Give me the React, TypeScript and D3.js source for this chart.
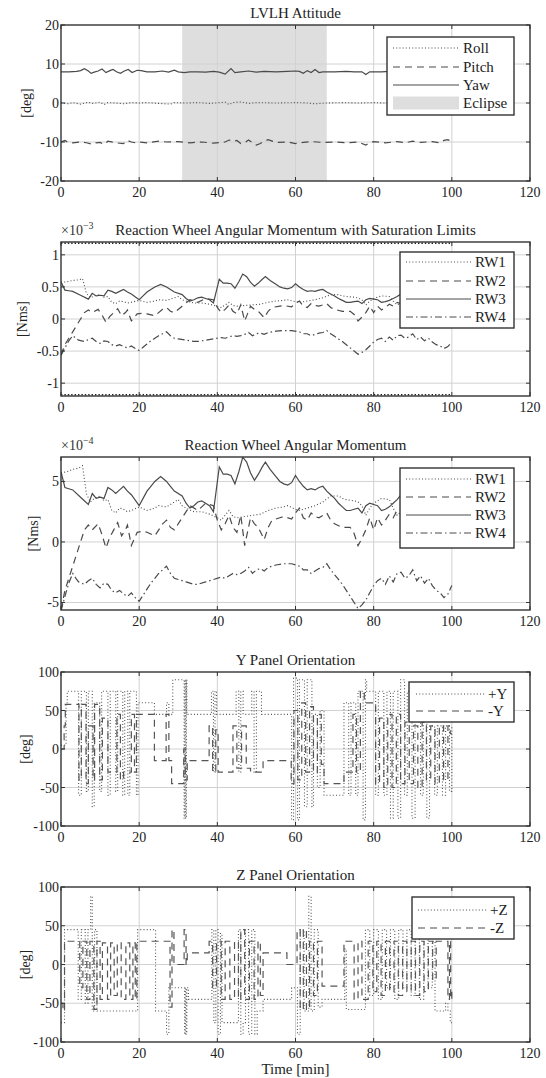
import { useEffect, useRef } from 'react';
import * as d3 from 'd3';

type Pt = [number, number];

const xTicks = [0, 20, 40, 60, 80, 100, 120];

// LVLH attitude [deg]
const rollData: Pt[] = [
  [0, 0], [2, -0.2], [3, 0.1], [5, -0.3], [7, 0.2], [8, -0.1], [10, 0.2], [11, -0.4], [12, 0.1], [14, 0],
  [16, -0.2], [18, 0.1], [20, 0], [22, 0.1], [25, -0.1], [28, -0.3], [29, 0.1], [32, 0], [35, 0.1], [38, -0.1],
  [42, 0.2], [43, -0.4], [44, 0.1], [46, 0.3], [48, -0.1], [50, 0.1], [55, 0], [60, 0.1], [63, 0], [65, -0.2],
  [68, 0], [72, 0.1], [76, 0], [80, 0.1], [85, -0.1], [90, 0.1], [95, 0], [100, 0],
];
const pitchData: Pt[] = [
  [0, -10], [1, -9.6], [2, -10.2], [3, -10.2], [5, -10], [6.5, -10.2], [8, -10.6], [9, -10.2], [10, -10.1], [11, -10.6],
  [12, -9.8], [14, -10.2], [16, -10.4], [17, -9.6], [18, -10], [19, -10.2], [20, -10], [22, -10.2], [25, -9.8], [27, -10],
  [30, -9.9], [33, -10.2], [36, -10], [39, -10.3], [42, -10], [43, -9.5], [44, -9.8], [45, -9.6], [46, -10.4], [47, -10.2],
  [48, -9.5], [50, -10.8], [51, -10.4], [52, -9.8], [53, -9.4], [55, -10.1], [58, -10], [60, -10.4], [62, -10.1], [64, -9.9],
  [67, -10.1], [70, -10], [73, -10.2], [76, -10], [78, -10.8], [79, -10.2], [80, -9.9], [83, -10.2], [86, -9.9], [88, -10.2],
  [90, -9.8], [92, -10.1], [95, -9.9], [97, -10.2], [98, -9.6], [99, -9.4], [100, -10],
];
const yawData: Pt[] = [
  [0, 8.0], [2, 8.0], [4, 8.1], [5, 8.3], [6, 8.8], [7, 8.2], [7.7, 7.6], [8.5, 7.9], [9.5, 8.2], [10.5, 8.7],
  [11.5, 7.8], [12.5, 8.3], [13.3, 8.6], [14.2, 8.0], [15.2, 7.6], [16.2, 8.2], [17.2, 8.6], [18.2, 7.8], [19.5, 8.4], [20.5, 8.3],
  [22, 8.0], [24, 8.0], [26, 8.2], [27.5, 7.9], [29, 8.4], [30, 8.0], [31.5, 7.8], [33, 8.0], [35, 8.0], [37, 7.9],
  [39, 8.1], [40.5, 7.9], [42, 7.4], [43.5, 8.8], [44.5, 7.8], [46, 8.0], [48, 8.2], [50, 7.9], [52, 8.1], [55, 8.0],
  [58, 8.1], [60, 8.2], [61, 8.1], [62, 7.6], [63, 8.3], [64, 7.8], [65, 8.6], [66, 7.8], [67, 8.0], [70, 8.0],
  [73, 8.1], [75, 8.0], [77, 8.0], [78, 7.3], [79, 8.0], [82, 8.0], [84, 8.1], [86, 7.9], [88, 8.1], [90, 8.0],
  [92, 7.9], [94, 8.1], [96, 8.0], [98, 8.1], [100, 8.0],
];
const eclipseSpan: Pt = [31, 68];

// reaction wheel angular momentum, in units of 1e-4 Nms
const rw1Data: Pt[] = [
  [0, 5.7], [1.5, 5.8], [3, 6.0], [4.5, 6.1], [5.5, 6.3], [6.5, 4.0], [7.5, 3.3], [8.5, 3.6], [10, 3.8], [11, 3.4],
  [12, 3.5], [13, 2.6], [14, 2.4], [15, 2.8], [16, 2.7], [17, 2.5], [18, 2.6], [20, 2.9], [22, 2.6], [24, 2.8],
  [25, 3.0], [27, 2.9], [28, 3.1], [30, 3.5], [31, 3.0], [32, 2.8], [34, 2.5], [36, 2.5], [38, 2.3], [40, 2.0],
  [41, 1.8], [42, 2.2], [43, 2.6], [44, 2.1], [45, 2.0], [47, 2.1], [49, 2.2], [51, 2.3], [53, 2.6], [55, 2.8],
  [57, 2.9], [58, 3.0], [60, 2.7], [61, 2.6], [63, 2.8], [65, 3.0], [67, 3.3], [69, 3.8], [71, 3.8], [72, 3.6],
  [73, 3.5], [75, 3.4], [76, 3.3], [77, 3.0], [78, 2.2], [79, 2.8], [80, 3.2], [82, 3.6], [84, 3.5], [85, 2.8],
  [86, 2.2], [88, 2.8], [90, 3.2], [92, 3.0], [94, 2.8], [96, 3.0], [98, 2.7], [100, 2.9],
];
const rw2Data: Pt[] = [
  [0, -5.6], [1, -4.0], [2, -3.0], [3, -2.0], [4, -1.0], [5, 0.0], [6, 1.0], [7, 1.4], [8, 1.0], [9.5, 1.5],
  [10.5, 0.6], [11.5, -0.5], [12.5, 0.4], [13.5, 1.0], [14.5, 1.6], [15.5, 0.5], [16.5, 1.0], [17, 1.4], [18, -0.3], [19.5, 0.8],
  [21, 0.9], [22, 0.8], [24, 0.5], [26, 1.5], [27, 1.8], [28, 1.2], [29, 1.0], [31, 2.0], [33, 3.0], [35, 2.6],
  [37, 3.2], [39, 3.0], [40, 1.8], [41, 1.0], [42, 1.5], [43, 2.2], [44, 1.2], [45, 0.8], [46, 2.2], [47, -0.3],
  [48.5, 2.0], [49.5, 1.5], [50.5, 1.2], [52, 0.2], [53, 1.2], [54, 1.8], [56, 2.0], [57, 2.1], [59, 1.9], [60, 2.4],
  [61, 2.8], [62, 2.0], [63, 1.8], [64, 2.4], [65, 2.1], [66, 2.0], [67, 2.2], [68, 2.4], [69, 1.8], [70, 1.5],
  [72, 1.2], [74, 1.2], [75, 0.7], [76, -0.3], [77, 0.3], [78, 1.0], [79, 2.0], [80, 1.0], [81, 2.0], [82, 1.4],
  [83, 1.8], [84, 2.3], [85, 2.0], [86, 2.6], [88, 2.2], [90, 1.8], [92, 2.0], [94, 1.6], [96, 1.9], [98, 1.5], [100, 1.7],
];
const rw3Data: Pt[] = [
  [0, 5.8], [1, 4.5], [2, 4.4], [3, 4.3], [5, 3.7], [7, 3.1], [8, 4.0], [9, 3.6], [10, 3.7], [11, 3.6],
  [12, 4.5], [13, 4.3], [14, 4.0], [15, 4.3], [16, 4.6], [17, 4.2], [18, 3.9], [20, 3.0], [21, 3.6], [22, 4.2],
  [23, 4.6], [24, 5.0], [25.5, 5.4], [27, 5.0], [28, 4.6], [29, 4.2], [31, 3.8], [32, 3.2], [33, 2.8], [34, 3.0],
  [35, 3.3], [36, 3.4], [37, 3.2], [38, 3.0], [39, 2.5], [40.5, 6.2], [41.5, 5.6], [42.5, 5.6], [43.5, 5.5], [44.5, 4.8],
  [45.5, 5.8], [46.5, 7.0], [47.5, 6.6], [48.5, 5.7], [49.5, 5.1], [50.5, 5.6], [51.5, 6.2], [52.3, 6.6], [53.5, 6.0], [55, 5.4],
  [56, 5.0], [57, 4.8], [58, 4.7], [59, 4.9], [60, 5.5], [61, 5.0], [62, 4.6], [63, 4.3], [64, 4.4], [65, 4.3],
  [66, 4.5], [67, 4.6], [68, 4.2], [69, 3.9], [70, 3.6], [71, 3.2], [72, 2.9], [73, 2.6], [74, 2.6], [75, 2.7],
  [76, 2.8], [77, 2.4], [78, 3.0], [79, 3.2], [80, 3.1], [81, 3.0], [82, 2.6], [83, 2.7], [84, 2.9], [85, 3.2],
  [86, 3.5], [87, 3.9], [88, 3.6], [90, 3.4], [92, 3.0], [94, 3.2], [96, 2.9], [98, 3.1], [100, 3.0],
];
const rw4Data: Pt[] = [
  [0, -5.7], [1, -4.5], [2, -3.4], [3, -2.6], [4, -3.1], [4.5, -3.3], [6, -3.5], [7, -3.2], [8, -3.0], [9, -3.5],
  [10, -3.8], [11, -3.4], [12, -3.5], [13, -4.0], [14, -4.2], [15, -4.0], [16, -4.3], [17, -4.5], [18, -4.2], [19, -4.6],
  [20, -4.9], [21, -4.4], [22, -3.9], [23, -3.4], [24, -3.0], [25, -2.6], [26, -2.3], [27, -2.0], [28, -2.6], [29, -3.0],
  [30, -3.1], [32, -3.3], [34, -3.5], [35, -3.5], [37, -3.3], [39, -3.1], [41, -2.9], [42, -3.0], [44, -2.6], [45, -2.7],
  [46, -2.6], [47, -2.4], [48, -2.1], [49, -2.6], [50, -2.3], [51, -2.2], [52, -2.4], [53, -2.1], [55, -1.9], [57, -1.8],
  [59, -1.8], [61, -2.0], [62, -2.3], [63, -2.3], [64, -2.6], [65, -2.4], [66, -2.2], [67, -2.1], [68, -1.8], [69, -2.3],
  [70, -2.7], [71, -3.1], [72, -3.5], [73, -4.0], [74, -4.5], [75, -5.0], [76, -5.5], [77, -5.2], [78, -4.8], [79, -4.2],
  [80, -3.6], [81, -3.2], [82, -3.0], [83, -3.5], [84, -2.8], [85, -3.3], [86, -2.6], [87, -2.5], [88, -3.0], [89, -2.8],
  [90, -2.3], [91, -3.2], [92, -2.8], [93, -3.4], [94, -3.0], [95, -3.6], [96, -4.0], [97, -4.2], [98, -4.6], [99, -4.3], [100, -3.6],
];
const satLimit = 1.18; // x1e-3 Nms

// panel orientation angles [deg], piecewise constant
const yPlusData: Pt[] = [
  [0, 5], [1.3, 60], [1.6, 75], [4.5, -60], [5.2, 75], [6.5, -55], [7.0, 75], [8.0, -75], [8.5, 60], [9.9, -55],
  [10.4, 75], [12.0, -60], [12.6, 75], [14.0, -55], [14.5, 75], [15.8, -60], [16.3, 75], [17.1, -60], [17.6, 75], [19.3, -60],
  [19.7, 60], [23.9, 45], [27.0, 60], [27.6, 45], [28.6, 90], [31.5, -90], [31.7, 90], [31.9, -90], [32.1, 90], [32.2, 45],
  [38.5, 75], [39.0, -30], [39.4, 75], [39.8, 45], [44.8, 75], [45.5, -30], [46.0, 75], [46.6, 45], [48.8, 75], [49.4, -30],
  [50.0, 75], [51.3, 45], [59.0, -92], [59.5, 92], [60.5, -92], [61.0, 90], [62.3, -75], [63.0, 90], [64.2, -75], [64.6, 45],
  [65.6, -50], [66.3, 50], [67.3, -60], [72.4, 60], [73.6, -60], [74.2, 60], [75.4, -60], [76.0, 75], [77.3, -92], [77.9, 90],
  [78.2, 75], [80.5, -60], [81.2, 75], [82.6, -60], [83.4, 75], [84.3, -90], [85.0, 75], [86.2, -90], [86.9, 90], [87.9, -60],
  [88.6, 75], [89.8, -90], [90.6, 60], [92.0, -60], [92.7, 60], [93.6, -90], [94.3, 30], [95.6, -60], [96.3, 30], [97.6, -60],
  [98.4, 30], [99.4, -55], [100, 30],
];
const yMinusData: Pt[] = [
  [0, 0], [0.8, 30], [1.1, 58], [4.6, -40], [5.2, 58], [6.4, -45], [7.0, 30], [8.2, -40], [8.6, 58], [9.9, -40],
  [10.6, 40], [12.0, -30], [14.3, 45], [15.2, -40], [16.0, -30], [18.0, 45], [18.8, -30], [19.3, 45], [23.9, -15], [26.9, 45],
  [27.6, -15], [28.3, -45], [31.4, 0], [31.8, -40], [32.3, -15], [37.9, 30], [38.8, -30], [39.6, 25], [40.2, -30], [44.0, 30],
  [45.0, -25], [46.2, 30], [47.4, -25], [48.5, -30], [51.7, -15], [58.9, -45], [59.6, 50], [60.6, -40], [61.6, 60], [62.6, -30],
  [63.6, 55], [64.6, -30], [65.6, 45], [66.6, -20], [67.3, -45], [72.4, -30], [74.7, 45], [75.6, -30], [76.6, 75], [77.6, 60],
  [80.5, -45], [81.5, 40], [82.6, -50], [83.6, 45], [84.7, -50], [85.8, 45], [86.9, -45], [88.0, 35], [89.1, -45], [90.2, 30],
  [91.3, -50], [92.4, 35], [93.5, -40], [94.6, 30], [95.7, -45], [96.8, 30], [97.9, -40], [99.0, 30], [99.6, 20], [100, 20],
];
const zPlusData: Pt[] = [
  [0, -75], [0.9, 45], [4.4, -45], [5.2, 45], [6.2, -50], [6.9, 45], [7.6, 88], [8.0, -60], [8.6, 45], [9.2, -60],
  [19.6, 45], [24.2, -60], [27.0, -90], [27.6, -30], [31.6, -90], [31.8, -30], [32.0, -90], [32.2, -30], [32.6, -45], [38.6, 45],
  [39.1, -75], [39.6, 45], [40.2, -90], [40.8, 40], [41.2, -75], [45.4, 45], [46.0, -90], [46.6, -75], [47.2, 45], [48.0, -90],
  [48.8, 45], [49.6, -90], [50.2, -60], [51.7, -45], [59.0, -30], [60.5, -90], [61.2, 45], [62.2, -60], [63.4, 88], [64.0, -60],
  [64.8, 45], [65.8, -55], [66.8, -45], [72.6, 20], [73.0, -58], [77.9, 45], [79.0, -40], [80.0, 45], [81.2, -45], [82.2, 45],
  [83.3, -30], [84.3, 45], [85.4, -45], [86.4, 45], [87.5, -30], [88.5, 45], [89.6, -40], [90.6, 40], [91.7, -45], [92.8, 40],
  [93.9, -30], [95.0, 30], [95.7, -60], [98.4, -50], [99.0, -60], [99.6, -75], [100, -75],
];
const zMinusData: Pt[] = [
  [0, -50], [0.5, -60], [0.9, 30], [4.8, -30], [5.6, 30], [6.6, -45], [7.4, 30], [8.4, -58], [9.2, 30], [10.0, -45],
  [10.6, 28], [11.9, -45], [12.7, 28], [13.6, -40], [14.4, 28], [15.4, -45], [16.6, 28], [17.6, -45], [18.4, 28], [19.0, -45],
  [19.4, 30], [27.9, -55], [28.4, 45], [28.9, 0], [31.5, 45], [32.0, 0], [32.3, 15], [37.9, 30], [38.8, -30], [39.8, 30],
  [41.0, -45], [42.0, 30], [43.2, -45], [44.4, 30], [45.4, -45], [46.0, 45], [47.0, -45], [48.2, 30], [49.4, -45], [50.4, 30],
  [51.0, -40], [51.7, 15], [57.8, 0], [60.4, 45], [61.2, -58], [62.0, 45], [62.8, -58], [63.6, 30], [64.6, -40], [65.6, 30],
  [66.8, -28], [72.4, 30], [75.0, -45], [76.0, 30], [77.0, -45], [78.6, 30], [79.8, -35], [80.8, 30], [81.9, -40], [83.0, 30],
  [84.1, -35], [85.2, 30], [86.3, -40], [87.4, 30], [88.5, -35], [89.6, 30], [90.7, -40], [91.8, 30], [92.9, -35], [94.0, 30],
  [95.1, -20], [96.0, 30], [99.0, -45], [99.4, 30], [99.7, -45], [100, -30],
];

const FONT = "'Liberation Serif', 'Times New Roman', serif";
const LINE = '#4a4a4a';
const GRID = '#d2d2d2';
const FRAME = '#333';
const DOT = '1,2.2';
const DASH = '7,5';
const DASHDOT = '7,3,1.5,3';

interface Series { data: Pt[]; dash: string | null; label: string }
interface LegendCfg { x: number; y: number; h: number; x1: number; x2: number; tx: number; rows: number[] }
interface PanelCfg {
  id: string;
  top: number;
  bottom: number;
  yDomain: [number, number];
  yTicks: number[];
  title: string;
  exponent?: string;
  yLabel: string;
  yLabelX: number;
  series: Series[];
  scale: number;
  step: boolean;
  eclipse?: Pt;
  sat?: number;
  legend: LegendCfg;
  xLabel?: string;
}

const rwSeries: Series[] = [
  { data: rw1Data, dash: DOT, label: 'RW1' },
  { data: rw2Data, dash: DASH, label: 'RW2' },
  { data: rw3Data, dash: null, label: 'RW3' },
  { data: rw4Data, dash: DASHDOT, label: 'RW4' },
];

const panels: PanelCfg[] = [
  {
    id: 'p1', top: 25, bottom: 181, yDomain: [-20, 20], yTicks: [-20, -10, 0, 10, 20],
    title: 'LVLH Attitude', yLabel: '[deg]', yLabelX: 26, scale: 1, step: false, eclipse: eclipseSpan,
    series: [
      { data: rollData, dash: DOT, label: 'Roll' },
      { data: pitchData, dash: DASH, label: 'Pitch' },
      { data: yawData, dash: null, label: 'Yaw' },
    ],
    legend: { x: 387, y: 37, h: 78, x1: 393, x2: 459, tx: 463, rows: [48, 67, 85, 103] },
  },
  {
    id: 'p2', top: 242, bottom: 396, yDomain: [-1.2, 1.2], yTicks: [-1, -0.5, 0, 0.5, 1],
    title: 'Reaction Wheel Angular Momentum with Saturation Limits', exponent: '\u22123',
    yLabel: '[Nms]', yLabelX: 22, scale: 0.1, step: false, sat: satLimit, series: rwSeries,
    legend: { x: 400, y: 252, h: 76, x1: 406, x2: 471, tx: 475, rows: [262, 281, 299, 317] },
  },
  {
    id: 'p3', top: 457, bottom: 610, yDomain: [-5.62, 7.02], yTicks: [-5, 0, 5],
    title: 'Reaction Wheel Angular Momentum', exponent: '\u22124',
    yLabel: '[Nms]', yLabelX: 33, scale: 1, step: false, series: rwSeries,
    legend: { x: 400, y: 468, h: 80, x1: 406, x2: 471, tx: 475, rows: [479, 497, 515, 533] },
  },
  {
    id: 'p4', top: 672, bottom: 826, yDomain: [-100, 100], yTicks: [-100, -50, 0, 50, 100],
    title: 'Y Panel Orientation', yLabel: '[deg]', yLabelX: 25, scale: 1, step: true,
    series: [
      { data: yPlusData, dash: DOT, label: '+Y' },
      { data: yMinusData, dash: DASH, label: '-Y' },
    ],
    legend: { x: 409, y: 682, h: 40, x1: 416, x2: 485, tx: 488, rows: [694, 711] },
  },
  {
    id: 'p5', top: 887, bottom: 1042, yDomain: [-100, 100], yTicks: [-100, -50, 0, 50, 100],
    title: 'Z Panel Orientation', yLabel: '[deg]', yLabelX: 25, scale: 1, step: true,
    series: [
      { data: zPlusData, dash: DOT, label: '+Z' },
      { data: zMinusData, dash: DASH, label: '-Z' },
    ],
    legend: { x: 412, y: 897, h: 42, x1: 418, x2: 487, tx: 490, rows: [910, 928] },
    xLabel: 'Time [min]',
  },
];

const LEFT = 61;
const RIGHT = 530;

function drawPanel(svg: d3.Selection<SVGSVGElement, unknown, null, undefined>, p: PanelCfg) {
  const x = d3.scaleLinear().domain([0, 120]).range([LEFT, RIGHT]);
  const y = d3.scaleLinear().domain(p.yDomain).range([p.bottom, p.top]);
  const g = svg.append('g');

  g.append('clipPath').attr('id', `clip-${p.id}`)
    .append('rect').attr('x', LEFT).attr('y', p.top).attr('width', RIGHT - LEFT).attr('height', p.bottom - p.top);

  g.append('rect').attr('x', LEFT).attr('y', p.top).attr('width', RIGHT - LEFT).attr('height', p.bottom - p.top)
    .attr('fill', '#fff');

  if (p.eclipse) {
    g.append('rect').attr('x', x(p.eclipse[0])).attr('y', p.top)
      .attr('width', x(p.eclipse[1]) - x(p.eclipse[0])).attr('height', p.bottom - p.top)
      .attr('fill', '#dedede');
  }

  // grid
  g.selectAll('.gx').data(xTicks.slice(1, -1)).enter().append('line')
    .attr('x1', d => x(d)).attr('x2', d => x(d)).attr('y1', p.top).attr('y2', p.bottom)
    .attr('stroke', GRID).attr('stroke-width', 1);
  g.selectAll('.gy').data(p.yTicks.filter(v => y(v) > p.top + 1 && y(v) < p.bottom - 1)).enter().append('line')
    .attr('x1', LEFT).attr('x2', RIGHT).attr('y1', d => y(d)).attr('y2', d => y(d))
    .attr('stroke', GRID).attr('stroke-width', 1);

  const plot = g.append('g').attr('clip-path', `url(#clip-${p.id})`);
  const line = d3.line<Pt>()
    .x(d => x(d[0]))
    .y(d => y(d[1] * p.scale))
    .curve(p.step ? d3.curveStepAfter : d3.curveLinear);

  if (p.sat) {
    [p.sat, -p.sat].forEach(s => {
      plot.append('path').attr('d', line([[0, s / p.scale], [100, s / p.scale]]))
        .attr('fill', 'none').attr('stroke', '#222').attr('stroke-width', 1.6).attr('stroke-dasharray', '1.4,2');
    });
  }

  p.series.forEach(s => {
    plot.append('path').attr('d', line(s.data))
      .attr('fill', 'none').attr('stroke', p.step ? '#555' : LINE)
      .attr('stroke-width', s.dash === DOT ? 1.1 : 1.2)
      .attr('stroke-dasharray', s.dash ?? null);
  });

  // frame + inward ticks
  g.append('rect').attr('x', LEFT).attr('y', p.top).attr('width', RIGHT - LEFT).attr('height', p.bottom - p.top)
    .attr('fill', 'none').attr('stroke', FRAME).attr('stroke-width', 1.4);
  const tk = 4;
  xTicks.forEach(t => {
    g.append('line').attr('x1', x(t)).attr('x2', x(t)).attr('y1', p.bottom).attr('y2', p.bottom - tk).attr('stroke', FRAME);
    g.append('line').attr('x1', x(t)).attr('x2', x(t)).attr('y1', p.top).attr('y2', p.top + tk).attr('stroke', FRAME);
  });
  p.yTicks.forEach(v => {
    g.append('line').attr('x1', LEFT).attr('x2', LEFT + tk).attr('y1', y(v)).attr('y2', y(v)).attr('stroke', FRAME);
    g.append('line').attr('x1', RIGHT).attr('x2', RIGHT - tk).attr('y1', y(v)).attr('y2', y(v)).attr('stroke', FRAME);
  });

  // tick labels
  g.selectAll('.xl').data(xTicks).enter().append('text')
    .attr('x', d => x(d)).attr('y', p.bottom + 16).attr('text-anchor', 'middle')
    .attr('font-family', FONT).attr('font-size', 14).attr('fill', '#222').text(d => String(d));
  g.selectAll('.yl').data(p.yTicks).enter().append('text')
    .attr('x', LEFT - 2).attr('y', d => y(d) + 5).attr('text-anchor', 'end')
    .attr('font-family', FONT).attr('font-size', 14).attr('fill', '#222').text(d => String(d));

  // title
  g.append('text').attr('x', (LEFT + RIGHT) / 2).attr('y', p.top - 7).attr('text-anchor', 'middle')
    .attr('font-family', FONT).attr('font-size', 15).attr('fill', '#222').text(p.title);
  if (p.exponent) {
    const e = g.append('text').attr('x', LEFT).attr('y', p.top - 7)
      .attr('font-family', FONT).attr('font-size', 14).attr('fill', '#333');
    e.append('tspan').text('\u00d710');
    e.append('tspan').attr('dy', -6).attr('font-size', 10).text(p.exponent);
  }

  // y label
  const cy = (p.top + p.bottom) / 2;
  g.append('text').attr('transform', `translate(${p.yLabelX},${cy}) rotate(-90)`)
    .attr('text-anchor', 'middle').attr('dy', '0.35em')
    .attr('font-family', FONT).attr('font-size', 14).attr('fill', '#222').text(p.yLabel);

  if (p.xLabel) {
    g.append('text').attr('x', (LEFT + RIGHT) / 2).attr('y', p.bottom + 32).attr('text-anchor', 'middle')
      .attr('font-family', FONT).attr('font-size', 15).attr('fill', '#222').text(p.xLabel);
  }

  // legend
  const L = p.legend;
  g.append('rect').attr('x', L.x).attr('y', L.y).attr('width', 514 - L.x).attr('height', L.h)
    .attr('fill', '#fff').attr('stroke', FRAME).attr('stroke-width', 1.4);
  const items: { label: string; dash: string | null; patch?: boolean }[] = p.series.map(s => ({ label: s.label, dash: s.dash }));
  if (p.eclipse) items.push({ label: 'Eclipse', dash: null, patch: true });
  items.forEach((it, i) => {
    const ry = L.rows[i];
    if (it.patch) {
      g.append('rect').attr('x', L.x1).attr('y', ry - 6.5).attr('width', L.x2 - L.x1).attr('height', 13).attr('fill', '#dedede');
    } else {
      g.append('line').attr('x1', L.x1).attr('x2', L.x2).attr('y1', ry).attr('y2', ry)
        .attr('stroke', LINE).attr('stroke-width', it.dash === DOT ? 1.1 : 1.2)
        .attr('stroke-dasharray', it.dash ?? null);
    }
    g.append('text').attr('x', L.tx).attr('y', ry + 5).attr('text-anchor', 'start')
      .attr('font-family', FONT).attr('font-size', 15).attr('fill', '#222').text(it.label);
  });
}

export default function App() {
  const svgRef = useRef<SVGSVGElement>(null);

  useEffect(() => {
    if (!svgRef.current) return;
    const svg = d3.select(svgRef.current);
    svg.selectAll('*').remove();
    svg.append('rect').attr('width', 546).attr('height', 1078).attr('fill', '#fff');
    panels.forEach(p => drawPanel(svg, p));
  }, []);

  return (
    <svg
      ref={svgRef}
      width={546}
      height={1078}
      style={{ position: 'absolute', left: 0, top: 0, display: 'block' }}
    />
  );
}
